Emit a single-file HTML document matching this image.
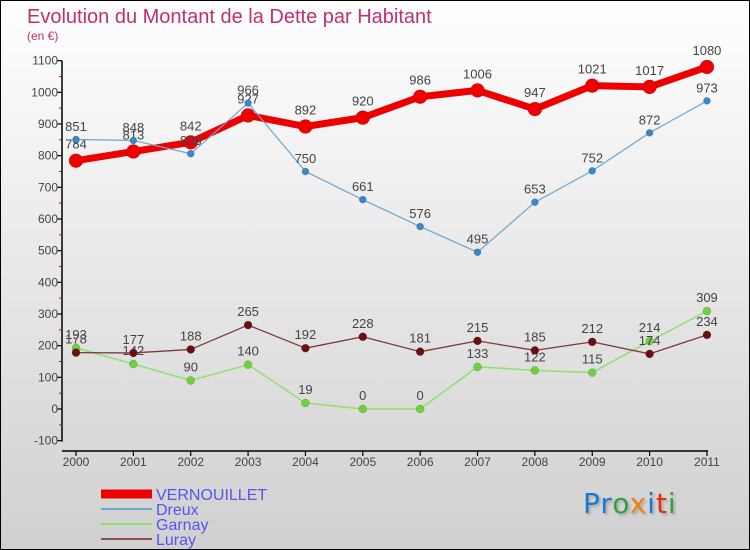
<!DOCTYPE html>
<html><head><meta charset="utf-8"><style>
body{margin:0;}
#wrap{position:relative;width:748px;height:548px;border:1px solid #000;background:linear-gradient(#ffffff,#d0d0d0);font-family:"Liberation Sans",sans-serif;overflow:hidden;}
svg{position:absolute;left:0;top:0;}
</style></head><body>
<div id="wrap">
<svg id="chart" width="748" height="548">
<text x="26" y="22" font-size="20" fill="#c0306a">Evolution du Montant de la Dette par Habitant</text>
<text x="26" y="39" font-size="12" fill="#c0306a">(en €)</text>
</svg>
<div style="position:absolute;left:582px;top:486px;font-size:28px;font-family:'DejaVu Sans',sans-serif;text-shadow:2px 2px 2px #aaa;letter-spacing:1px"><span style="color:#1a78d0">Pr</span><span style="color:#30a040">o</span><span style="color:#f08010">x</span><span style="color:#1a78d0">i</span><span style="color:#e03010">t</span><span style="color:#30a040">i</span></div>
</div>
<script>
const years=["2000","2001","2002","2003","2004","2005","2006","2007","2008","2009","2010","2011"];
const vernouillet=[784,813,842,927,892,920,986,1006,947,1021,1017,1080];
const dreux=[851,848,806,966,750,661,576,495,653,752,872,973];
const garnay=[193,142,90,140,19,0,0,133,122,115,214,309];
const luray=[178,177,188,265,192,228,181,215,185,212,174,234];
const yTicks=[-100,0,100,200,300,400,500,600,700,800,900,1000,1100];
const NS="http://www.w3.org/2000/svg";
const svg=document.getElementById('chart');
const x=i=>75+i*57.36;
const y=v=>408-v*0.3167;
function el(t,a,p){const e=document.createElementNS(NS,t);for(const k in a)e.setAttribute(k,a[k]);(p||svg).appendChild(e);return e;}
const ya=el('line',{x1:61,y1:y(1100),x2:61,y2:y(-100)+1,stroke:'#000','stroke-width':1.5});


const xa=el('line',{x1:61,y1:450,x2:707,y2:450,stroke:'#000','stroke-width':1.5});


yTicks.forEach((v,i)=>{
  el('line',{x1:56,y1:y(v),x2:61,y2:y(v),stroke:'#000','stroke-width':1.2});
  if(i<yTicks.length-1) el('line',{x1:58,y1:y(v+50),x2:61,y2:y(v+50),stroke:'#e00'});
  const t=el('text',{x:57,y:y(v)+4,'text-anchor':'end','font-size':12,fill:'#444'});
  t.textContent=v;
  
  
});
years.forEach((yr,i)=>{
  el('line',{x1:x(i),y1:450,x2:x(i),y2:455,stroke:'#000','stroke-width':1.2});
  const t=el('text',{x:x(i),y:465,'text-anchor':'middle','font-size':12,fill:'#444'});
  t.textContent=yr;
  
  
});
function series(data,color,lw,r,name,fill){
  const g=el('g',{});
  
  
  const pts=data.map((v,i)=>x(i)+','+y(v)).join(' ');
  el('polyline',{points:pts,fill:'none',stroke:color,'stroke-width':lw,'stroke-linejoin':'round'},g);
  data.forEach((v,i)=>{
    const c=el('circle',{cx:x(i),cy:y(v),r:r,fill:fill,stroke:'rgba(0,0,0,0.25)','stroke-width':0.5},g);
    
    
    const t=el('text',{x:x(i),y:y(v)-r-5,'text-anchor':'middle','font-size':13,fill:'#444'},g);
    t.textContent=v;
    
    
  });
}
series(vernouillet,'#ee0000',7,7,'vernouillet','#ee0000');
series(dreux,'#6aa8d4',1.2,3.5,'dreux','#3a88c8');
series(garnay,'#90e070',1.5,4,'garnay','#70d040');
series(luray,'#803838',1.3,4,'luray','#6a1010');
const leg=[['VERNOUILLET','#ee0000',9],['Dreux','#6aa8d4',2],['Garnay','#90e070',2],['Luray','#905050',2]];
leg.forEach((l,i)=>{
  const yy=493+i*15;
  const g=el('g',{});
  
  
  el('line',{x1:100,y1:yy,x2:151,y2:yy,stroke:l[1],'stroke-width':l[2]},g);
  const t=el('text',{x:155,y:yy+6,'font-size':16,fill:'#5555ee'},g);
  t.textContent=l[0];
});
</script>
</body></html>
